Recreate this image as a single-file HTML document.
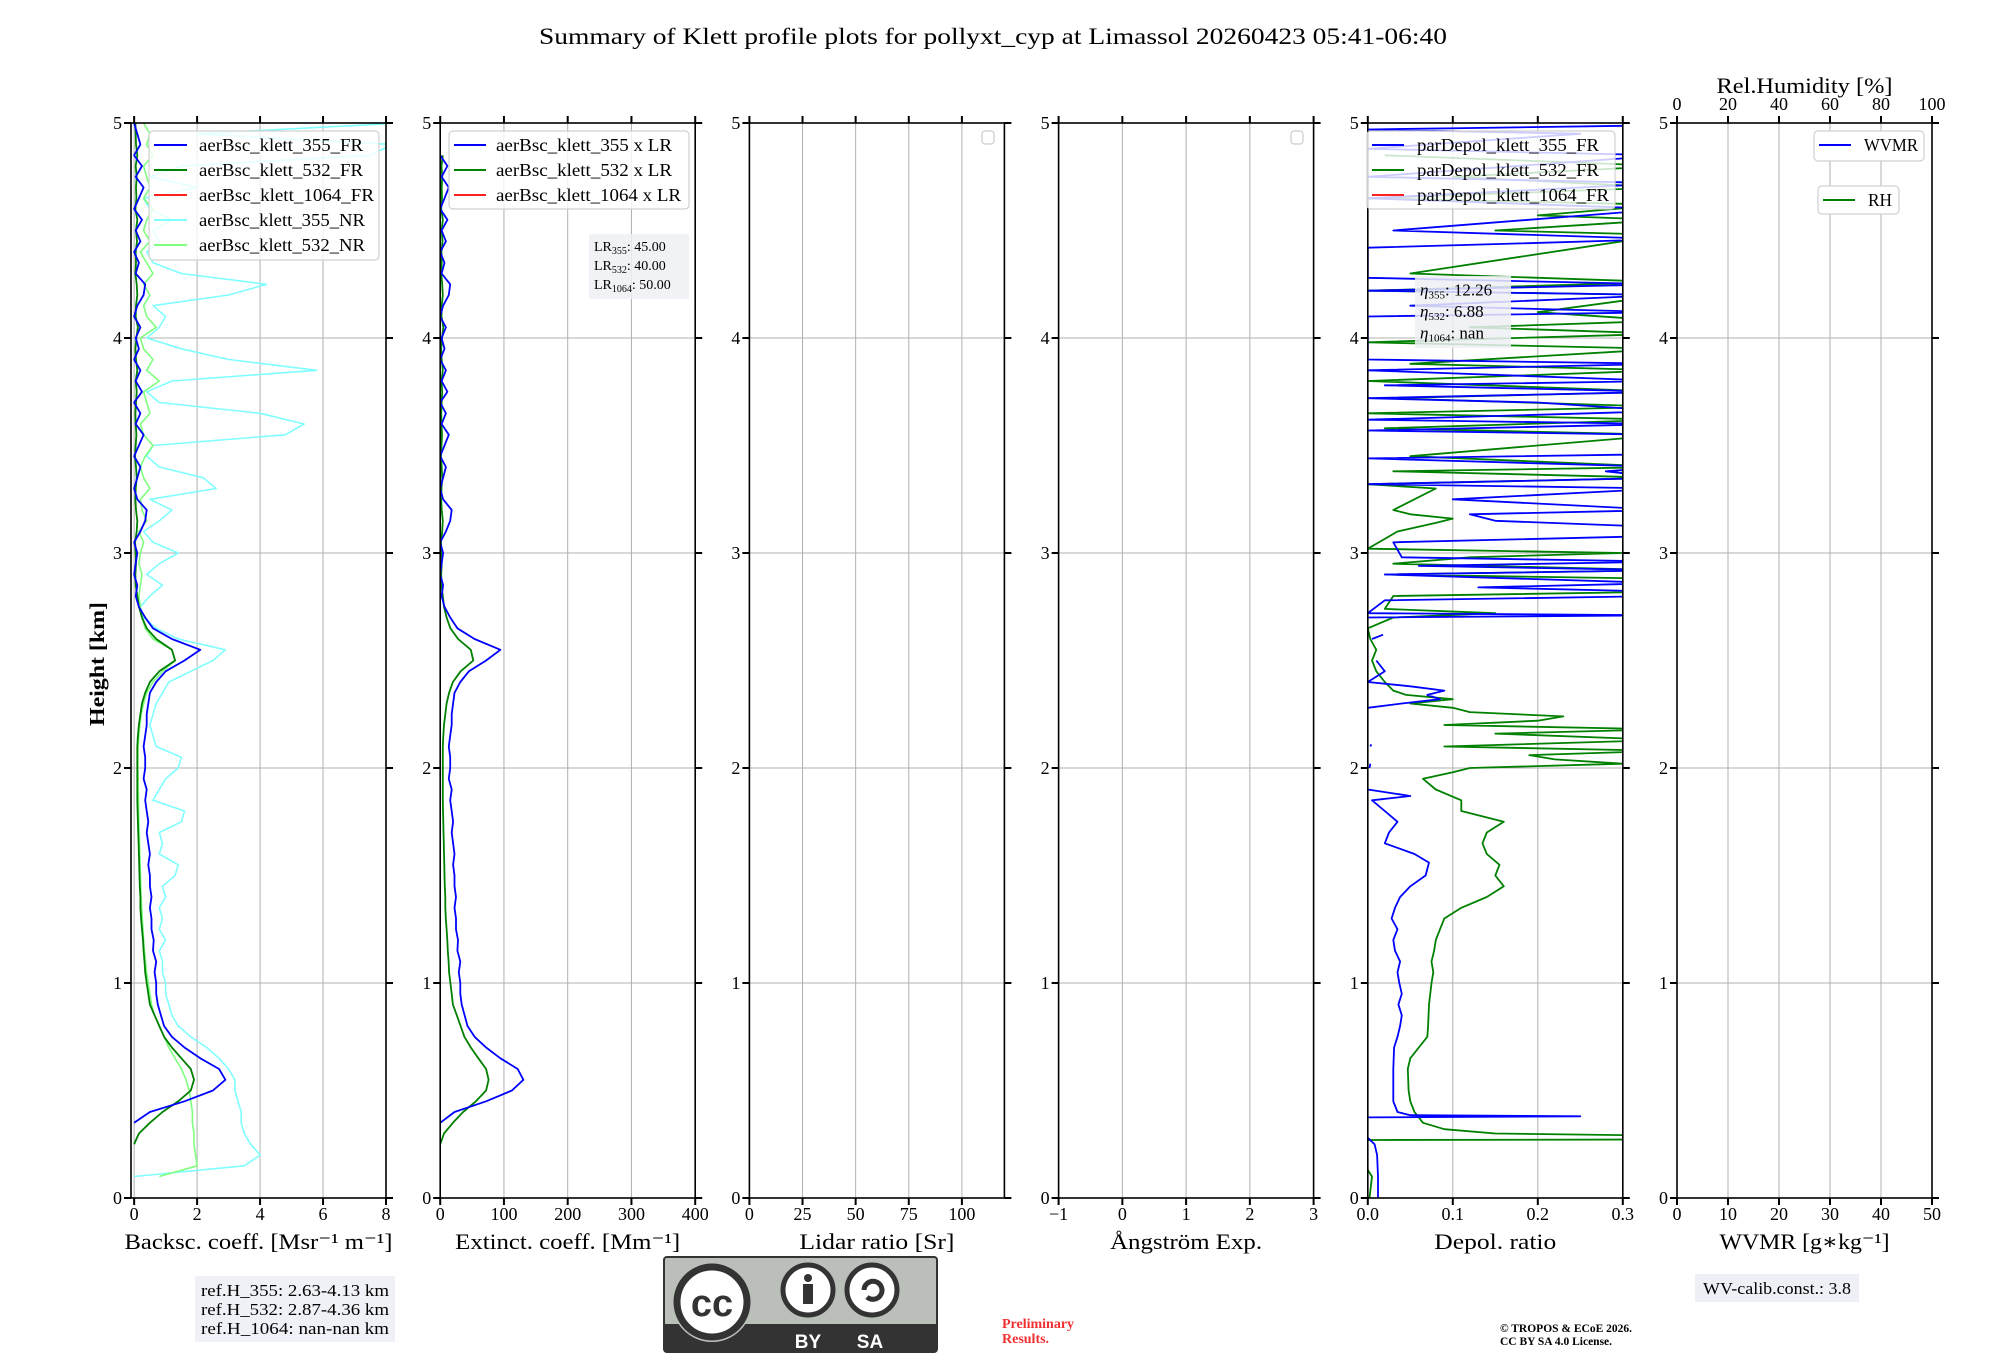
<!DOCTYPE html>
<html><head><meta charset="utf-8"><style>
body{margin:0;background:#fff}
svg{display:block;font-family:"Liberation Serif","DejaVu Serif",serif}
</style></head><body>
<svg id="fig" width="2000" height="1360" viewBox="0 0 2000 1360" xmlns="http://www.w3.org/2000/svg">
<rect width="2000" height="1360" fill="#fff"/>
<text x="993" y="44" font-size="23" text-anchor="middle" textLength="908" lengthAdjust="spacingAndGlyphs">Summary of Klett profile plots for pollyxt_cyp at Limassol 20260423 05:41-06:40</text>
<text transform="translate(104,664) rotate(-90)" font-size="21" font-weight="bold" text-anchor="middle" textLength="124" lengthAdjust="spacingAndGlyphs">Height [km]</text>
<g id="plots"></g>
<g>
<rect x="195" y="1276" width="200" height="66" fill="#eef0f5" opacity="0.9"/>
<text x="201" y="1296" font-size="17" textLength="188" lengthAdjust="spacingAndGlyphs">ref.H_355: 2.63-4.13 km</text>
<text x="201" y="1315" font-size="17" textLength="188" lengthAdjust="spacingAndGlyphs">ref.H_532: 2.87-4.36 km</text>
<text x="201" y="1334" font-size="17" textLength="188" lengthAdjust="spacingAndGlyphs">ref.H_1064: nan-nan km</text>
</g>
<g>
<rect x="664" y="1257" width="273" height="95" rx="3" fill="#bbbfba" stroke="#333" stroke-width="2"/>
<rect x="665" y="1324" width="271" height="27" fill="#333"/>
<circle cx="712" cy="1302" r="40" fill="#bbbfba"/>
<circle cx="712" cy="1302" r="35" fill="#fff" stroke="#333" stroke-width="7"/>
<text x="712" y="1316" font-family="Liberation Sans,sans-serif" font-weight="bold" font-size="38" text-anchor="middle" fill="#333">cc</text>
<circle cx="808" cy="1290" r="25" fill="#fff" stroke="#333" stroke-width="5"/>
<circle cx="808" cy="1278" r="4" fill="#333"/>
<rect x="803" y="1284" width="10" height="20" fill="#333"/>
<circle cx="872" cy="1290" r="25" fill="#fff" stroke="#333" stroke-width="5"/>
<path d="M864 1290 a9 9 0 1 1 3 7" fill="none" stroke="#333" stroke-width="5"/>
<text x="808" y="1348" font-family="Liberation Sans,sans-serif" font-weight="bold" font-size="19" text-anchor="middle" fill="#fff">BY</text>
<text x="870" y="1348" font-family="Liberation Sans,sans-serif" font-weight="bold" font-size="19" text-anchor="middle" fill="#fff">SA</text>
</g>
<g fill="#f03030" font-weight="bold" font-size="14">
<text x="1002" y="1328">Preliminary</text><text x="1002" y="1343">Results.</text>
</g>
<g font-weight="bold" font-size="11.5">
<text x="1500" y="1332">© TROPOS &amp; ECoE 2026.</text><text x="1500" y="1345">CC BY SA 4.0 License.</text>
</g>
<g>
<rect x="1695" y="1274" width="164" height="28" fill="#eef0f5"/>
<text x="1703" y="1294" font-size="17" textLength="148" lengthAdjust="spacingAndGlyphs">WV-calib.const.: 3.8</text>
</g>
</svg>
<script>
// ---------- data ----------
const hGrid = [0,0.05,0.1,0.15,0.2,0.25,0.3,0.35,0.4,0.45,0.5,0.55,0.6,0.65,0.7,0.75,0.8,0.85,0.9,0.95,1.0,1.05,1.1,1.15,1.2,1.25,1.3,1.35,1.4,1.45,1.5,1.55,1.6,1.65,1.7,1.75,1.8,1.85,1.9,1.95,2.0,2.05,2.1,2.15,2.2,2.25,2.3,2.35,2.4,2.45,2.5,2.55,2.6,2.65,2.7,2.75,2.8,2.85,2.9,2.95,3.0,3.05,3.1,3.15,3.2,3.25,3.3,3.35,3.4,3.45,3.5,3.55,3.6,3.65,3.7,3.75,3.8,3.85,3.9,3.95,4.0,4.05,4.1,4.15,4.2,4.25,4.3,4.35,4.4,4.45,4.5,4.55,4.6,4.65,4.7,4.75,4.8,4.85,4.9,4.95,5.0];
const bsc355FR = [null,null,null,null,null,null,null,0.0,0.5,1.6,2.5,2.9,2.7,2.1,1.6,1.2,0.95,0.85,0.75,0.7,0.7,0.65,0.7,0.6,0.62,0.55,0.55,0.5,0.55,0.5,0.5,0.45,0.5,0.45,0.4,0.45,0.4,0.35,0.4,0.3,0.35,0.35,0.3,0.35,0.4,0.4,0.45,0.5,0.7,1.0,1.6,2.1,1.2,0.6,0.35,0.15,0.05,0.1,0.0,0.05,0.1,0.0,0.2,0.35,0.4,0.1,0.0,0.1,0.2,0.0,0.15,0.3,0.05,0.2,0.0,0.25,0.05,0.2,0.0,0.15,0.05,0.2,0.0,0.1,0.3,0.35,0.05,0.15,0.0,0.2,0.05,0.25,0.0,0.15,0.3,0.05,0.25,0.0,0.2,0.1,0.0];
const bsc532FR = [null,null,null,null,null,0.0,0.15,0.5,0.9,1.4,1.8,1.9,1.8,1.5,1.2,0.95,0.8,0.65,0.5,0.45,0.4,0.35,0.33,0.3,0.28,0.25,0.22,0.2,0.2,0.18,0.17,0.16,0.15,0.14,0.13,0.12,0.11,0.1,0.1,0.1,0.1,0.1,0.1,0.12,0.15,0.2,0.25,0.35,0.5,0.8,1.3,1.2,0.7,0.4,0.25,0.15,0.1,0.05,0.04,0.06,0.05,0.03,0.08,0.1,0.06,0.04,0.05,0.08,0.06,0.03,0.05,0.07,0.05,0.04,0.06,0.08,0.05,0.1,0.06,0.04,0.07,0.12,0.05,0.06,0.1,0.08,0.04,0.06,0.05,0.09,0.06,0.1,0.04,0.07,0.06,0.08,0.05,0.1,0.06,0.05,0.04];
const bsc1064FR = [];
const bsc355NR = [null,null,0.0,3.5,4.0,3.7,3.5,3.4,3.4,3.3,3.2,3.2,3.0,2.7,2.3,1.8,1.4,1.2,1.1,1.0,1.0,0.9,0.9,0.8,1.0,0.8,0.9,0.8,1.0,0.9,1.3,1.4,0.8,0.9,0.8,1.5,1.6,0.6,0.8,1.0,1.4,1.5,0.7,0.6,0.5,0.6,0.7,0.9,1.1,1.8,2.5,2.9,1.4,0.7,0.3,0.2,0.5,0.9,0.4,0.8,1.4,0.6,0.3,0.8,1.2,0.5,2.6,2.2,0.8,0.4,0.6,4.8,5.4,4.0,0.8,0.4,1.2,5.8,3.0,1.5,0.4,0.8,1.0,0.6,3.0,4.2,1.5,0.6,0.4,0.8,0.6,1.2,0.5,0.3,2.0,0.5,1.5,7.5,8.2,2.0,8.5];
const bsc532NR = [null,null,0.8,2.0,1.95,1.9,1.9,1.85,1.85,1.8,1.75,1.65,1.5,1.3,1.1,0.95,0.8,0.65,0.55,0.5,0.45,0.4,0.36,0.33,0.3,0.28,0.26,0.24,0.22,0.21,0.2,0.19,0.18,0.17,0.16,0.15,0.14,0.14,0.13,0.13,0.12,0.12,0.13,0.15,0.18,0.22,0.3,0.4,0.6,0.9,1.3,1.2,0.6,0.35,0.25,0.2,0.15,0.2,0.25,0.15,0.2,0.3,0.15,0.4,0.25,0.2,0.5,0.3,0.2,0.35,0.6,0.3,0.2,0.5,0.4,0.3,0.8,0.4,0.6,0.3,0.2,0.7,0.4,0.3,0.5,0.3,0.6,0.4,0.2,0.5,0.3,0.4,0.6,0.3,0.5,0.4,0.3,0.6,0.4,0.5,0.3];
const lidarRatios = [45, 40, 50];
const depol355H = [0,0.1,0.2,0.25,0.28,null,0.375,0.38,0.385,0.40,0.45,0.5,0.6,0.7,0.75,0.8,0.85,0.9,0.95,1.0,1.05,1.1,1.15,1.2,1.25,1.3,1.35,1.4,1.45,1.5,1.53,1.56,1.6,1.65,1.7,1.75,1.8,1.85,1.87,1.9,null,2.0,2.02,null,2.1,2.11,null,2.28,2.3,2.32,2.34,2.36,2.38,2.4,2.45,2.5,null,2.6,2.62,null,2.7,2.71,2.72,2.78,2.8,2.82,2.84,2.86,2.9,2.92,2.94,2.96,2.98,3.05,3.08,3.12,3.15,3.18,3.2,3.25,3.3,3.32,3.35,3.38,3.4,3.44,3.46,3.55,3.57,3.6,3.62,3.66,3.7,3.72,3.75,3.78,3.8,3.85,3.88,3.9,4.1,4.12,4.15,4.2,4.22,4.25,4.28,4.42,4.44,4.46,4.5,4.6,4.65,4.72,4.75,4.85,4.88,4.95,4.97,4.99];
const depol355V = [0.012,0.012,0.011,0.008,0.0,null,0.0,0.25,0.05,0.035,0.03,0.03,0.03,0.031,0.035,0.038,0.04,0.036,0.04,0.037,0.035,0.038,0.032,0.03,0.035,0.028,0.032,0.038,0.05,0.068,0.07,0.072,0.055,0.02,0.025,0.035,0.02,0.005,0.05,0.0,null,0.002,0.003,null,0.003,0.004,null,0.0,0.04,0.085,0.07,0.09,0.05,0.0,0.02,0.01,null,0.005,0.018,null,0.0,0.35,0.0,0.02,0.35,0.35,0.13,0.35,0.02,0.35,0.06,0.35,0.04,0.03,0.35,0.35,0.15,0.12,0.35,0.1,0.35,0.0,0.35,0.28,0.35,0.0,0.35,0.35,0.0,0.35,0.0,0.35,0.2,0.0,0.35,0.02,0.35,0.0,0.35,0.0,0.0,0.35,0.05,0.35,0.0,0.35,0.0,0.0,0.18,0.35,0.03,0.35,0.0,0.35,0.0,0.35,0.0,0.25,0.0,0.35];
const depol532H = [0.0,0.1,0.13,null,0.27,0.272,null,0.29,0.3,0.32,0.35,0.4,0.45,0.5,0.6,0.65,0.7,0.75,0.8,0.9,1.0,1.05,1.1,1.15,1.2,1.25,1.3,1.35,1.4,1.45,1.5,1.55,1.6,1.65,1.7,1.75,1.8,1.85,1.9,1.95,1.98,2.0,2.02,2.04,2.06,2.08,2.1,2.13,2.16,2.18,2.2,2.22,2.24,2.26,2.28,2.3,2.32,2.34,2.36,2.4,2.45,2.5,2.55,2.6,2.65,2.7,2.72,2.74,2.8,2.82,2.86,2.88,2.9,2.92,2.95,2.98,3.0,3.02,3.1,3.14,3.16,3.18,3.2,3.22,3.3,3.32,3.35,3.38,3.4,3.45,3.55,3.58,3.62,3.65,3.68,3.72,3.75,3.8,3.85,3.88,3.95,3.98,4.02,4.05,4.08,4.12,4.2,4.22,4.26,4.3,4.48,4.5,4.55,4.57,4.62,4.65,4.7,4.75,4.8,4.85];
const depol532V = [0.002,0.005,0.0,null,0.0,0.35,null,0.35,0.15,0.09,0.065,0.055,0.05,0.048,0.047,0.05,0.06,0.07,0.071,0.072,0.075,0.077,0.075,0.078,0.08,0.085,0.09,0.11,0.14,0.16,0.15,0.155,0.14,0.135,0.14,0.16,0.11,0.11,0.08,0.065,0.1,0.12,0.3,0.22,0.19,0.35,0.09,0.35,0.15,0.35,0.09,0.2,0.23,0.12,0.1,0.05,0.1,0.045,0.03,0.02,0.01,0.005,0.01,0.003,0.0,0.03,0.15,0.02,0.03,0.35,0.3,0.35,0.02,0.35,0.03,0.12,0.3,0.0,0.035,0.08,0.1,0.05,0.03,0.04,0.08,0.0,0.35,0.03,0.35,0.05,0.35,0.02,0.35,0.0,0.35,0.02,0.35,0.0,0.35,0.05,0.35,0.0,0.35,0.12,0.35,0.2,0.35,0.0,0.35,0.05,0.35,0.15,0.35,0.2,0.35,0.0,0.35,0.1,0.35,0.02];
const yTicks = [0,1,2,3,4,5];

// ---------- layout ----------
const NS = "http://www.w3.org/2000/svg";
const TOP = 123, BOT = 1198, W = 255, HMAX = 5;
const panels = [
  {name:'backscatter', x0:131, xmin:-0.1, xmax:8, ticks:[0,2,4,6,8], labels:['0','2','4','6','8'], xlabel:'Backsc. coeff. [Msr⁻¹ m⁻¹]', xlw:268},
  {name:'extinction', x0:440.2, xmin:0, xmax:400, ticks:[0,100,200,300,400], labels:['0','100','200','300','400'], xlabel:'Extinct. coeff. [Mm⁻¹]', xlw:225},
  {name:'lidar-ratio', x0:749.4, xmin:0, xmax:120, ticks:[0,25,50,75,100], labels:['0','25','50','75','100'], xlabel:'Lidar ratio [Sr]', xlw:155},
  {name:'angstrom', x0:1058.6, xmin:-1, xmax:3, ticks:[-1,0,1,2,3], labels:['−1','0','1','2','3'], xlabel:'Ångström Exp.', xlw:152},
  {name:'depol', x0:1367.8, xmin:0, xmax:0.3, ticks:[0,0.1,0.2,0.3], labels:['0.0','0.1','0.2','0.3'], xlabel:'Depol. ratio', xlw:122},
  {name:'wvmr', x0:1677, xmin:0, xmax:50, ticks:[0,10,20,30,40,50], labels:['0','10','20','30','40','50'], xlabel:'WVMR [g∗kg⁻¹]', xlw:170}
];
const root = document.getElementById('plots');
function mk(tag, attrs, parent){const e=document.createElementNS(NS,tag);for(const k in attrs)e.setAttribute(k,attrs[k]);(parent||root).appendChild(e);return e;}
function yS(h){return BOT-(h/HMAX)*(BOT-TOP);}
function xS(p,v){return p.x0+(v-p.xmin)/(p.xmax-p.xmin)*W;}

panels.forEach((p,i)=>{
  const g = mk('g',{});
  
  
  const cp = mk('clipPath',{id:'clip'+i},g);
  mk('rect',{x:p.x0,y:TOP,width:W,height:BOT-TOP},cp);
  p.ticks.forEach(t=>{const x=xS(p,t);mk('line',{x1:x,x2:x,y1:TOP,y2:BOT,stroke:'#b0b0b0','stroke-width':1},g);});
  yTicks.forEach(t=>{const y=yS(t);mk('line',{x1:p.x0,x2:p.x0+W,y1:y,y2:y,stroke:'#b0b0b0','stroke-width':1},g);});
  p.g=g; p.clip='url(#clip'+i+')';
});

function drawSeries(p, hs, vs, color, name, sw){
  let d='', pen=false;
  for(let k=0;k<hs.length;k++){
    const h=hs[k], v=vs[k];
    if(h===null||v===null||v===undefined){pen=false;continue;}
    d+=(pen?'L':'M')+xS(p,v).toFixed(1)+' '+yS(h).toFixed(1);
    pen=true;
  }
  const e=mk('path',{d:d,fill:'none',stroke:color,'stroke-width':sw||1.6,'clip-path':p.clip,'stroke-linejoin':'round'},p.g);
  
  
}
drawSeries(panels[0],hGrid,bsc355NR,'#80ffff','line-bsc-355-nr',1.6);
drawSeries(panels[0],hGrid,bsc532NR,'#80ff80','line-bsc-532-nr',1.6);
drawSeries(panels[0],hGrid,bsc532FR,'#008000','line-bsc-532-fr',1.8);
drawSeries(panels[0],hGrid,bsc355FR,'#0000ff','line-bsc-355-fr',1.8);
const ext532 = bsc532FR.map(v=>v===null?null:v*lidarRatios[1]);
const ext355 = bsc355FR.map(v=>v===null?null:v*lidarRatios[0]);
drawSeries(panels[1],hGrid.slice(0,98),ext532.slice(0,98),'#008000','line-ext-532',1.8);
drawSeries(panels[1],hGrid.slice(0,98),ext355.slice(0,98),'#0000ff','line-ext-355',1.8);
drawSeries(panels[4],depol532H,depol532V,'#008000','line-depol-532',1.8);
drawSeries(panels[4],depol355H,depol355V,'#0000ff','line-depol-355',1.8);

panels.forEach((p,i)=>{
  const g=p.g;
  mk('rect',{x:p.x0,y:TOP,width:W,height:BOT-TOP,fill:'none',stroke:'#000','stroke-width':1.6},g);
  p.ticks.forEach((t,k)=>{
    const x=xS(p,t);
    mk('line',{x1:x,x2:x,y1:BOT,y2:BOT+7,stroke:'#000','stroke-width':2},g);
    mk('line',{x1:x,x2:x,y1:TOP,y2:TOP-7,stroke:'#000','stroke-width':2},g);
    const tl=mk('text',{x:x,y:BOT+22,'font-size':18,'text-anchor':'middle'},g);
    tl.textContent=p.labels[k];
    
    
  });
  yTicks.forEach(t=>{
    const y=yS(t);
    mk('line',{x1:p.x0-7,x2:p.x0,y1:y,y2:y,stroke:'#000','stroke-width':2},g);
    mk('line',{x1:p.x0+W,x2:p.x0+W+7,y1:y,y2:y,stroke:'#000','stroke-width':2},g);
    const tl=mk('text',{x:p.x0-9,y:y+6,'font-size':18,'text-anchor':'end'},g);
    tl.textContent=String(t);
    
    
  });
  const xl=mk('text',{x:p.x0+W/2,y:BOT+51,'font-size':22,'text-anchor':'middle',textLength:p.xlw,lengthAdjust:'spacingAndGlyphs'},g);
  xl.textContent=p.xlabel;
  
  
});

(function(){
  const p=panels[5];
  const rhTicks=[0,20,40,60,80,100];
  rhTicks.forEach(t=>{
    const tl=mk('text',{x:p.x0+t/100*W,y:110,'font-size':18,'text-anchor':'middle'},p.g);
    tl.textContent=String(t);
    
    
  });
  const t=mk('text',{x:p.x0+W/2,y:93,'font-size':22,'text-anchor':'middle',textLength:176,lengthAdjust:'spacingAndGlyphs'},p.g);
  t.textContent='Rel.Humidity [%]';
  
  
})();

function legend(name, x, y, w, h, entries, dy, lw, textX, fill){
  const g=mk('g',{});
  
  
  mk('rect',{x:x,y:y,width:w,height:h,rx:4,fill:fill||'rgba(255,255,255,0.8)',stroke:'#d0d0d0','stroke-width':1.2},g);
  entries.forEach((e,k)=>{
    const yy=y+14+k*dy;
    mk('line',{x1:x+5,x2:x+5+lw,y1:yy,y2:yy,stroke:e[1],'stroke-width':2},g);
    const t=mk('text',{x:textX,y:yy+6,'font-size':18,textLength:e[2],lengthAdjust:'spacingAndGlyphs'},g);
    t.textContent=e[0];
    
    
  });
}
legend('bsc-legend',149,131,230,129,[['aerBsc_klett_355_FR','#0000ff',164],['aerBsc_klett_532_FR','#008000',164],['aerBsc_klett_1064_FR','#ff2020',175],['aerBsc_klett_355_NR','#80ffff',166],['aerBsc_klett_532_NR','#80ff80',166]],25,33,199);
legend('ext-legend',449,131,240,78,[['aerBsc_klett_355 x LR','#0000ff',176],['aerBsc_klett_532 x LR','#008000',176],['aerBsc_klett_1064 x LR','#ff2020',185]],25,32,496);
legend('depol-legend',1367,131,248,78,[['parDepol_klett_355_FR','#0000ff',182],['parDepol_klett_532_FR','#008000',182],['parDepol_klett_1064_FR','#ff2020',192]],25,32,1417);
legend('wvmr-legend',1814,131,110,30,[['WVMR','#0000ff',54]],25,32,1864,'#fff');
legend('rh-legend',1818,186,81,28,[['RH','#008000',24]],25,32,1868,'#fff');
[[982,131],[1291,131]].forEach(b=>{
  const r=mk('rect',{x:b[0],y:b[1],width:12,height:13,rx:3,fill:'#fff',stroke:'#ccc','stroke-width':1.2});
  
  
});

function infoBox(name,x,y,w,h,lines,lh,fs){
  const g=mk('g',{});
  
  
  mk('rect',{x:x,y:y,width:w,height:h,fill:'rgba(238,240,245,0.85)'},g);
  lines.forEach((ln,k)=>{
    const t=mk('text',{x:x+5,y:y+lh*(k+1)-2,'font-size':fs},g);
    t.innerHTML=ln;
  });
}
infoBox('lidar-ratio-box',589,234,100,65,['LR<tspan font-size="10" dy="3">355</tspan><tspan dy="-3">: 45.00</tspan>','LR<tspan font-size="10" dy="3">532</tspan><tspan dy="-3">: 40.00</tspan>','LR<tspan font-size="10" dy="3">1064</tspan><tspan dy="-3">: 50.00</tspan>'],19,14);
infoBox('eta-box',1415,276,96,72,['<tspan font-style="italic">η</tspan><tspan font-size="11" dy="3">355</tspan><tspan dy="-3">: 12.26</tspan>','<tspan font-style="italic">η</tspan><tspan font-size="11" dy="3">532</tspan><tspan dy="-3">: 6.88</tspan>','<tspan font-style="italic">η</tspan><tspan font-size="11" dy="3">1064</tspan><tspan dy="-3">: nan</tspan>'],21.5,17);
</script>
</body></html>
